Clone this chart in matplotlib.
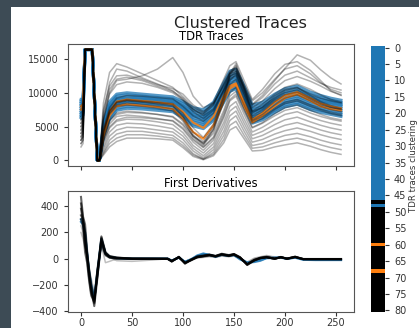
import matplotlib
matplotlib.use("Agg")
import matplotlib.pyplot as plt
from matplotlib.colors import ListedColormap, Normalize
from matplotlib.cm import ScalarMappable
from matplotlib.patches import Rectangle

# sample positions of the TDR traces
x_top = [0, 2, 4, 11, 16, 18, 22, 28, 35, 45, 60, 75, 90, 100, 110, 120, 130, 140, 146, 152, 160, 168, 178, 190, 200, 212, 225, 235, 245, 255]
spike = [16384, 16384, 0, 0]

blue_traces = [
    [9000, 8900] + spike + [5500, 8700, 9800, 10000, 9800, 9600, 9400, 8700, 7800, 7500, 8600, 11500, 13200, 13500, 11000, 8200, 8600, 9800, 10600, 11000, 10100, 9600, 9200, 8900],
    [8700, 8600] + spike + [5200, 8300, 9500, 9700, 9500, 9300, 9100, 8400, 7400, 7100, 8200, 11000, 12700, 13000, 10500, 7800, 8200, 9400, 10200, 10600, 9700, 9300, 8900, 8600],
    [8400, 8400] + spike + [4900, 8000, 9200, 9400, 9300, 9100, 8900, 8100, 7100, 6700, 7900, 10700, 12300, 12700, 10100, 7500, 7900, 9100, 9900, 10300, 9400, 9000, 8700, 8400],
    [8100, 8200] + spike + [4700, 7700, 9000, 9200, 9100, 8900, 8700, 7900, 6800, 6400, 7600, 10400, 12000, 12400, 9800, 7200, 7700, 8800, 9600, 10000, 9200, 8800, 8500, 8200],
    [7800, 8000] + spike + [4500, 7500, 8800, 9000, 8900, 8700, 8500, 7700, 6600, 6200, 7400, 10100, 11700, 12100, 9500, 7000, 7500, 8600, 9400, 9800, 9000, 8600, 8300, 8000],
    [7500, 7700] + spike + [4300, 7200, 8500, 8800, 8700, 8500, 8300, 7500, 6300, 5900, 7100, 9800, 11400, 11800, 9200, 6700, 7200, 8300, 9100, 9500, 8700, 8300, 8000, 7700],
    [7200, 7500] + spike + [4100, 7000, 8300, 8600, 8500, 8300, 8100, 7200, 6000, 5600, 6800, 9500, 11100, 11500, 8900, 6400, 6900, 8000, 8800, 9200, 8400, 8000, 7700, 7400],
    [6900, 7200] + spike + [3900, 6700, 8000, 8300, 8200, 8000, 7800, 6900, 5700, 5300, 6500, 9200, 10800, 11200, 8600, 6100, 6600, 7700, 8500, 8900, 8100, 7700, 7400, 7100],
    [6600, 7000] + spike + [3700, 6400, 7700, 8000, 7900, 7700, 7500, 6600, 5400, 5000, 6200, 8900, 10500, 10900, 8300, 5800, 6300, 7400, 8200, 8600, 7800, 7400, 7100, 6800],
    [6300, 6700] + spike + [3500, 6100, 7400, 7700, 7600, 7400, 7200, 6300, 5100, 4700, 5900, 8600, 10200, 10600, 8000, 5500, 6000, 7100, 7900, 8300, 7500, 7100, 6800, 6500],
]

orange_traces = [
    [7500, 8000] + spike + [4000, 7200, 8700, 9000, 8800, 8600, 8300, 7200, 5600, 4800, 6500, 9500, 11000, 11400, 8500, 6000, 7000, 8600, 9600, 10100, 9200, 8400, 8000, 7700],
    [8000, 8300] + spike + [3500, 6600, 8000, 8300, 8100, 7900, 7600, 6200, 4200, 3200, 5200, 8800, 10600, 11200, 8000, 5600, 6600, 8000, 9200, 9800, 8800, 8000, 7600, 7400],
]

gray_traces = [
    [5500, 6500] + spike + [8500, 13000, 14300, 13800, 12800, 11800, 10800, 9400, 7900, 7000, 8600, 12000, 14000, 14600, 11800, 9000, 10500, 12800, 14200, 14600, 13300, 11800, 10300, 9600],
    [4500, 5500] + spike + [7000, 11500, 13500, 13200, 12200, 11300, 10300, 9000, 7500, 6800, 8200, 11500, 13200, 13800, 11200, 8800, 10000, 12000, 13500, 14000, 12800, 11500, 10500, 10000],
    [3500, 4500] + spike + [6000, 10000, 11800, 12000, 12500, 13500, 15200, 13000, 9500, 7800, 8500, 11000, 12800, 13200, 10800, 8300, 9600, 11800, 13600, 15600, 14800, 13400, 12200, 11300],
    [5000, 6000] + spike + [7500, 11000, 12500, 12600, 12000, 11200, 10600, 9800, 8200, 7200, 8300, 11200, 12900, 13500, 10800, 8200, 9300, 11300, 12600, 13200, 12200, 11400, 10800, 10400],
    [4000, 5000] + spike + [6500, 10500, 12000, 12300, 11800, 11000, 10200, 9200, 7600, 6600, 7600, 10500, 12400, 12900, 10300, 7800, 8800, 10600, 11800, 12400, 11700, 11000, 10200, 9700],
    [3000, 4000] + spike + [6000, 9800, 11200, 11600, 11400, 10800, 10000, 8900, 7200, 6200, 7400, 10300, 12000, 12500, 9800, 7300, 8300, 9800, 10800, 11300, 10500, 9700, 9000, 8600],
    [7000, 7500] + spike + [4300, 7300, 8600, 8900, 8700, 8500, 8200, 6600, 4200, 2800, 5000, 9500, 12800, 14300, 11000, 7000, 7900, 9500, 10500, 10800, 9600, 8700, 8100, 7700],
    [6500, 7000] + spike + [4200, 7200, 8500, 8800, 8600, 8300, 8000, 6400, 3800, 2400, 4700, 9200, 12500, 14000, 10500, 6600, 7500, 9000, 10000, 10400, 9300, 8500, 7900, 7500],
    [7500, 8000] + spike + [4400, 7400, 8700, 9000, 8800, 8600, 8400, 7000, 4800, 3400, 5400, 9800, 12300, 13200, 10000, 6300, 7200, 8700, 9700, 10100, 9100, 8300, 7800, 7600],
    [6000, 6500] + spike + [4000, 7000, 8200, 8500, 8300, 8000, 7600, 6000, 3500, 2200, 4400, 8800, 11800, 12800, 9500, 6000, 6800, 8200, 9200, 9700, 8800, 8000, 7500, 7200],
    [8000, 8500] + spike + [4800, 7800, 9200, 9600, 9500, 9300, 9100, 8000, 6600, 5800, 7000, 10400, 13000, 13600, 10500, 7200, 7800, 9200, 10300, 10700, 9800, 9200, 8800, 8500],
    [5500, 6000] + spike + [3800, 6800, 8000, 8200, 8000, 7700, 7300, 5800, 3600, 2600, 4600, 8500, 11200, 12000, 9000, 5800, 6500, 7700, 8600, 9000, 8200, 7600, 7100, 6800],
    [4500, 5000] + spike + [3500, 6000, 7000, 7300, 7100, 6800, 6400, 5200, 3200, 2000, 3500, 7000, 9500, 10200, 7500, 4800, 5500, 6600, 7400, 7800, 7000, 6500, 6100, 5800],
    [4000, 4500] + spike + [3000, 5400, 6500, 6700, 6500, 6200, 5800, 4600, 2700, 1500, 3000, 6300, 8800, 9500, 6800, 4200, 4900, 6000, 6800, 7200, 6400, 5900, 5500, 5200],
    [3500, 4000] + spike + [2500, 4800, 5800, 6100, 6000, 5700, 5300, 4100, 2200, 1100, 2500, 5600, 8000, 8700, 6100, 3700, 4300, 5300, 6000, 6400, 5700, 5200, 4800, 4500],
    [3000, 3500] + spike + [2000, 4200, 5200, 5500, 5400, 5100, 4700, 3600, 1800, 700, 2000, 5000, 7300, 8000, 5500, 3200, 3700, 4600, 5200, 5600, 5000, 4500, 4100, 3800],
    [2500, 3000] + spike + [1600, 3600, 4500, 4900, 4800, 4500, 4200, 3100, 1400, 400, 1600, 4300, 6600, 7300, 4900, 2700, 3100, 3900, 4400, 4800, 4300, 3800, 3400, 3100],
    [2000, 2500] + spike + [1200, 3000, 3900, 4300, 4300, 4000, 3700, 2600, 1000, 200, 1200, 3700, 5900, 6600, 4300, 2200, 2500, 3200, 3700, 4000, 3500, 3000, 2600, 2300],
    [2500, 3000] + spike + [1000, 2500, 3300, 3800, 3800, 3600, 3300, 2200, 800, 200, 900, 3100, 5200, 5800, 3700, 1800, 2000, 2600, 3000, 3300, 2800, 2300, 1900, 1600],
    [3000, 3500] + spike + [800, 2000, 2800, 3300, 3300, 3200, 3000, 1900, 600, 100, 700, 2600, 4500, 5000, 3200, 1400, 1500, 2000, 2300, 2600, 2100, 1600, 1200, 900],
    [5000, 5500] + spike + [2800, 5000, 6000, 6400, 6300, 6100, 5900, 4800, 3000, 1900, 3300, 6600, 9000, 9800, 7300, 4900, 5600, 6900, 7800, 8200, 7400, 6800, 6300, 6000],
    [6000, 6500] + spike + [3200, 5800, 6800, 7100, 7000, 6800, 6500, 5400, 3600, 2500, 4000, 7400, 10000, 10800, 8200, 5500, 6200, 7500, 8400, 8800, 8000, 7400, 6900, 6600],
]

# first derivatives
x_der = [0, 2, 4, 6, 8, 10, 13, 16, 20, 24, 28, 35, 50, 70, 85, 89, 96, 102, 108, 114, 120, 126, 132, 138, 145, 150, 156, 163, 170, 176, 182, 190, 196, 202, 210, 218, 230, 255]
der_black = [
    [470, 320, 260, 60, -100, -220, -360, -150, 170, 50, 20, 10, 0, 0, 0, -20, 15, -35, -10, 15, 20, 30, 18, 35, 25, 35, 10, -45, -10, 5, 12, 0, 12, 0, 15, -3, -3, -3],
    [420, 300, 200, 40, -120, -240, -340, -120, 150, 40, 15, 5, 0, 0, -2, -15, 10, -30, -8, 12, 18, 25, 20, 32, 22, 30, 5, -40, -8, 8, 10, 2, 10, 2, 12, -2, -2, -2],
    [380, 280, 150, 0, -150, -260, -320, -100, 130, 35, 10, 0, 2, 0, 0, -18, 12, -32, -12, 10, 22, 28, 15, 30, 20, 32, 8, -42, -12, 3, 14, -2, 14, -2, 13, -4, -4, -4],
    [330, 300, 100, 30, -80, -200, -300, -140, 120, 30, 8, 3, 0, 0, 0, -22, 14, -38, -6, 18, 25, 32, 22, 38, 28, 36, 12, -48, -14, 6, 11, 1, 11, 1, 16, -3, -3, -3],
    [300, 250, 50, -30, -170, -280, -330, -90, 160, 45, 18, 8, 0, 0, 0, -20, 12, -30, -10, 14, 20, 28, 20, 34, 24, 34, 9, -44, -10, 5, 12, 0, 12, 0, 14, -3, -3, -3],
]
der_blue = [
    [300, 280, 200, 40, -100, -200, -300, -120, 140, 40, 15, 5, 0, 0, 0, -15, 10, -25, -5, 20, 35, 30, 15, 30, 25, 30, 0, -30, -20, -10, 5, 5, 10, 0, 10, -5, -8, -8],
    [280, 260, 180, 30, -110, -210, -310, -110, 150, 40, 15, 5, 0, 0, 0, -15, 10, -25, -5, 25, 40, 28, 18, 30, 22, 28, -5, -30, -25, -15, 5, 8, 8, 0, 8, -8, -10, -10],
]
der_gray = [
    [250, 200, 100, 20, -100, -180, -280, -100, 100, -30, -20, 0, -5, 0, 0, -10, 5, -20, 0, 10, 15, 20, 15, 25, 20, 25, 10, -30, 0, 10, 20, 15, 15, 5, 10, 0, 0, 0],
    [200, 150, 80, 0, -80, -150, -250, -80, 90, 20, 10, -15, -20, -10, 0, -10, 5, -20, -5, 5, 10, 15, 10, 20, 15, 20, 5, -25, 5, 15, 25, 10, 5, 0, 5, 0, 0, 0],
]

# cluster label colour of each of the 81 traces (colorbar)
cluster_colors = ['#1f77b4'] * 47 + ['black', '#1f77b4'] + ['black'] * 11 + ['#ff7f0e'] + ['black'] * 7 + ['#ff7f0e'] + ['black'] * 12
cbar_ticks = list(range(0, 81, 5))

W, H = 419, 328
fig = plt.figure(figsize=(W / 100, H / 100), dpi=100, facecolor='#3d4b55')
fig.patches.append(Rectangle((11 / W, 0), 1 - 11 / W, 1 - 7 / H, transform=fig.transFigure,
                             facecolor='white', edgecolor='none', zorder=-10))

ax1 = fig.add_axes([68 / W, 1 - 166 / H, 286 / W, 122 / H])
ax2 = fig.add_axes([68 / W, 1 - 312 / H, 286 / W, 121 / H], sharex=ax1)
cax = fig.add_axes([371 / W, 1 - 312 / H, 14 / W, 266 / H])

for y in blue_traces:
    ax1.plot(x_top, y, color='#1f77b4', lw=2.2, alpha=0.75)
for y in orange_traces:
    ax1.plot(x_top, y, color='#ff7f0e', lw=1.5, alpha=0.85)
for y in gray_traces:
    ax1.plot(x_top, y, color='black', lw=1.1, alpha=0.3)

for y in der_gray:
    ax2.plot(x_der, y, color='black', lw=1.1, alpha=0.25)
for y in der_blue:
    ax2.plot(x_der, y, color='#1f77b4', lw=1.6, alpha=0.8)
for y in der_black:
    ax2.plot(x_der, y, color='black', lw=1.5, alpha=0.6)

ax1.set_title('TDR Traces', fontsize=8.3, pad=3)
ax2.set_title('First Derivatives', fontsize=8.3, pad=3)
ax1.set_ylim(-819, 17203)
ax2.set_ylim(-405, 515)
ax2.set_xlim(-12.75, 267.75)
ax1.set_yticks([0, 5000, 10000, 15000])
ax2.set_yticks([-400, -200, 0, 200, 400])
ax2.set_xticks([0, 50, 100, 150, 200, 250])
ax1.tick_params(labelbottom=False)
for ax in (ax1, ax2):
    ax.tick_params(labelsize=7, length=3, colors='#333333')
    for s in ax.spines.values():
        s.set_color('#555555')
ax2.tick_params(axis='x', pad=1.5)

cmap = ListedColormap(cluster_colors)
sm = ScalarMappable(norm=Normalize(-0.5, 80.5), cmap=cmap)
cb = fig.colorbar(sm, cax=cax, ticks=cbar_ticks)
cax.invert_yaxis()
cb.outline.set_visible(False)
cax.tick_params(labelsize=7, length=3, colors='#333333')
cb.set_label('TDR traces clustering', fontsize=6.2, color='#333333')
cax.yaxis.set_label_coords(2.72, 0.55)

fig.text(240 / W, 1 - 23 / H, 'Clustered Traces', fontsize=11.5, ha='center', va='center', color='#222222')

fig.savefig('out.png', dpi=100, facecolor=fig.get_facecolor())
